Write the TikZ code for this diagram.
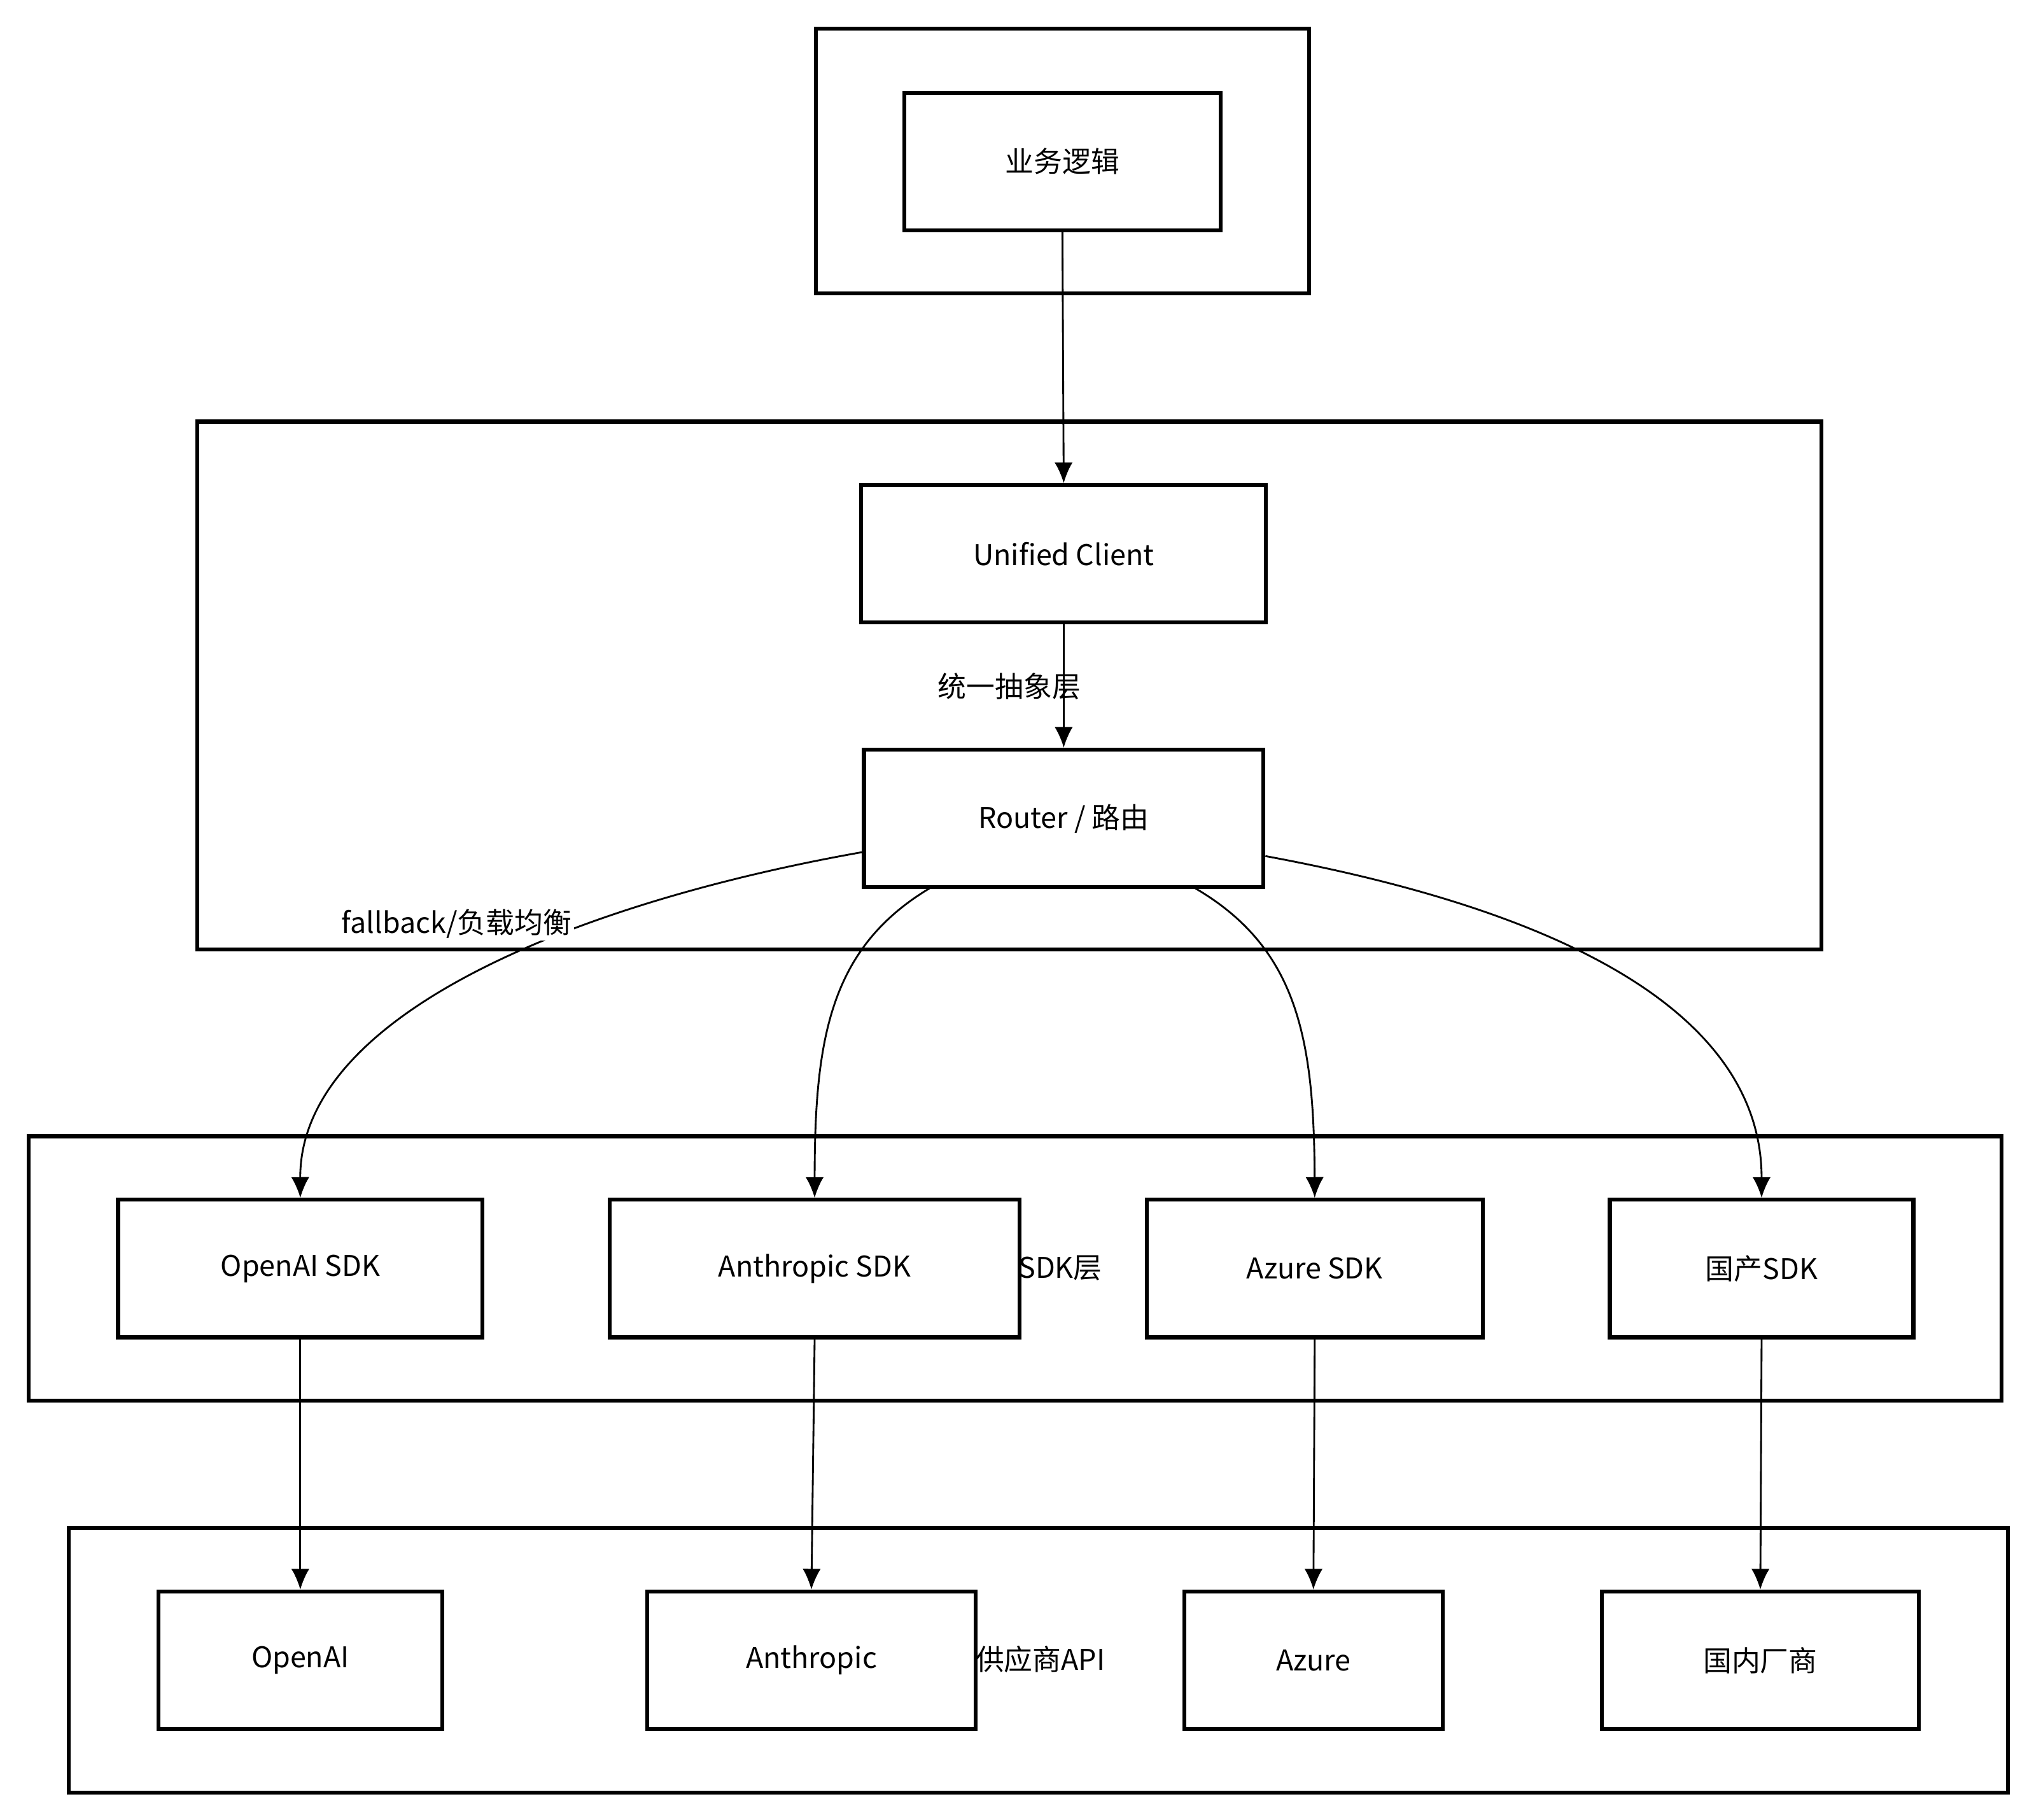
\documentclass[tikz,border=0pt]{standalone}
\usepackage{fontspec}
\setmainfont{Noto Sans CJK SC}
\usetikzlibrary{arrows.meta}
\tikzset{
 grp/.style={draw,line width=1.5pt,fill=white},
 bx/.style={draw,line width=1.5pt,fill=white,font=\fontsize{11}{13}\selectfont},
 arr/.style={-{Latex[length=8pt,width=7pt]},line width=0.7pt},
 lbl/.style={font=\fontsize{11}{13}\selectfont,inner sep=1pt}
}
\begin{document}
\begin{tikzpicture}[x=0.5pt,y=-0.5pt]
\useasboundingbox (0,0) rectangle (1568,1403);
\draw[grp] (629,22) rectangle (1009,226);
\draw[grp] (152,325) rectangle (1404,732);
\draw[grp] (22,876) rectangle (1543,1080);
\draw[grp] (53,1178) rectangle (1548,1382);
\node[lbl,anchor=east] (l3) at (852,977) {厂商SDK层};
\node[lbl] (l4) at (802,1279) {供应商API};
\node[bx,minimum width=122pt,minimum height=53pt] (biz) at (819,124.5) {业务逻辑};
\node[bx,minimum width=156pt,minimum height=53pt] (uc) at (820,427) {Unified Client};
\node[bx,minimum width=154pt,minimum height=53pt] (rt) at (820,631) {Router / 路由};
\node[bx,minimum width=140.5pt,minimum height=53pt] (s1) at (231.5,978) {OpenAI SDK};
\node[bx,minimum width=158pt,minimum height=53pt] (s2) at (628,978) {Anthropic SDK};
\node[bx,minimum width=129.5pt,minimum height=53pt] (s3) at (1013.5,978) {Azure SDK};
\node[bx,minimum width=117pt,minimum height=53pt] (s4) at (1358,978) {国产SDK};
\node[bx,minimum width=109.5pt,minimum height=53pt] (p1) at (231.5,1280) {OpenAI};
\node[bx,minimum width=126.5pt,minimum height=53pt] (p2) at (625.5,1280) {Anthropic};
\node[bx,minimum width=99.5pt,minimum height=53pt] (p3) at (1012.5,1280) {Azure};
\node[bx,minimum width=122pt,minimum height=53pt] (p4) at (1357,1280) {国内厂商};
\draw[arr] (biz.south) -- (uc.north);
\draw[arr] (uc.south) -- node[lbl,pos=0.5,xshift=-21pt]{统一抽象层} (rt.north);
\draw[arr] (rt.west |- 0,657) .. controls (450,695) and (231,780) .. (s1.north);
\node[lbl,fill=white] (fb) at (352,712) {fallback/负载均衡};
\draw[arr] (718,684) .. controls (640,730) and (628,800) .. (s2.north);
\draw[arr] (920,684) .. controls (1000,730) and (1013,800) .. (s3.north);
\draw[arr] (rt.east |- 0,660) .. controls (1300,720) and (1358,830) .. (s4.north);
\draw[arr] (s1.south) -- (p1.north);
\draw[arr] (s2.south) -- (p2.north);
\draw[arr] (s3.south) -- (p3.north);
\draw[arr] (s4.south) -- (p4.north);
\end{tikzpicture}
\end{document}
